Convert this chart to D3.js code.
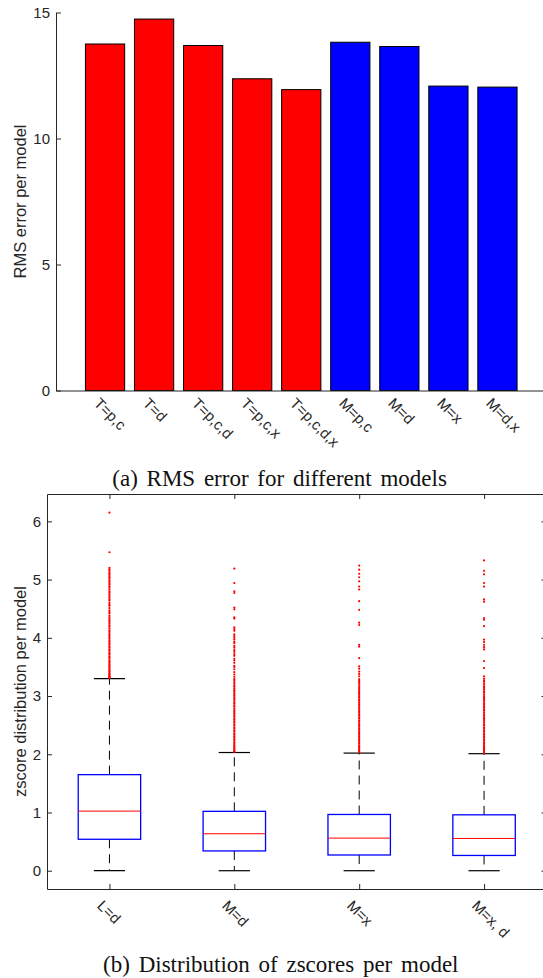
<!DOCTYPE html>
<html>
<head>
<meta charset="utf-8">
<script src="https://cdn.jsdelivr.net/npm/d3@7"></script>
<style>
  html, body { margin: 0; padding: 0; background: #fff; }
  svg { display: block; }
</style>
</head>
<body>
<svg id="fig" width="543" height="978"></svg>
<script>
// (a) RMS error per model
const rmsModels = ["T=p,c", "T=d", "T=p,c,d", "T=p,c,x", "T=p,c,d,x", "M=p,c", "M=d", "M=x", "M=d,x"];
const rmsErrors = [13.75, 14.74, 13.69, 12.37, 11.94, 13.82, 13.65, 12.08, 12.04];
const rmsTicks = [0, 5, 10, 15];

// (b) zscore distribution per model (boxplot stats)
const zModels = ["L=d", "M=d", "M=x", "M=x, d"];
const zLowerWhisker = [0, 0, 0, 0];
const zQ1 = [0.54, 0.34, 0.27, 0.262];
const zMedian = [1.024, 0.635, 0.56, 0.554];
const zQ3 = [1.65, 1.02, 0.966, 0.96];
const zUpperWhisker = [3.30, 2.03, 2.02, 2.01];
const zTicks = [0, 1, 2, 3, 4, 5, 6];

const zOutliersLd = [6.15, 5.47, 5.20, 5.17, 5.15, 5.12, 5.10, 5.08, 5.05, 5.03, 5.01, 4.98, 4.96, 4.93,
  4.91, 4.88, 4.86, 4.83, 4.80, 4.78, 4.75, 4.72, 4.69, 4.66, 4.64, 4.60, 4.57, 4.55, 4.51, 4.47,
  4.44, 4.42, 4.38, 4.35, 4.32, 4.29, 4.27, 4.24, 4.21, 4.19, 4.16, 4.13, 4.11, 4.08, 4.05, 4.03,
  4.00, 3.98, 3.95, 3.93, 3.90, 3.88, 3.85, 3.83, 3.80, 3.78, 3.75, 3.73, 3.71, 3.68, 3.66, 3.64,
  3.61, 3.59, 3.57, 3.55, 3.53, 3.51, 3.49, 3.47, 3.45, 3.43, 3.42, 3.40, 3.38, 3.37, 3.35, 3.34,
  3.33, 3.32, 3.31];
const zOutliersMd = [5.19, 4.94, 4.80, 4.77, 4.52, 4.49, 4.35, 4.33, 4.18, 4.15, 4.12, 4.06, 4.03,
  4.00, 3.97, 3.93, 3.91, 3.86, 3.83, 3.79, 3.76, 3.72, 3.69, 3.64, 3.61, 3.57, 3.52, 3.50, 3.46,
  3.41, 3.37, 3.33, 3.29, 3.27, 3.24, 3.21, 3.18, 3.16, 3.13, 3.10, 3.08, 3.05, 3.02, 3.00, 2.97,
  2.95, 2.92, 2.89, 2.87, 2.84, 2.82, 2.79, 2.76, 2.74, 2.71, 2.69, 2.66, 2.64, 2.61, 2.59, 2.56,
  2.54, 2.51, 2.49, 2.46, 2.44, 2.41, 2.39, 2.36, 2.34, 2.31, 2.29, 2.26, 2.24, 2.21, 2.19, 2.16,
  2.14, 2.12, 2.10, 2.08, 2.06, 2.05, 2.04];
const zOutliersMx = [5.24, 5.17, 5.10, 5.04, 4.97, 4.88, 4.83, 4.63, 4.48, 4.26, 4.22, 3.88, 3.85,
  3.65, 3.51, 3.47, 3.42, 3.38, 3.34, 3.29, 3.26, 3.24, 3.21, 3.18, 3.15, 3.13, 3.10, 3.07, 3.05,
  3.02, 2.99, 2.97, 2.94, 2.92, 2.89, 2.86, 2.84, 2.81, 2.79, 2.76, 2.74, 2.71, 2.68, 2.66, 2.63,
  2.61, 2.58, 2.56, 2.53, 2.50, 2.48, 2.45, 2.43, 2.40, 2.38, 2.35, 2.33, 2.30, 2.28, 2.25, 2.23,
  2.20, 2.18, 2.15, 2.13, 2.11, 2.09, 2.07, 2.05, 2.03];
const zOutliersMxd = [5.33, 5.15, 5.09, 4.94, 4.88, 4.66, 4.62, 4.34, 4.31, 4.20, 3.97, 3.93, 3.88,
  3.84, 3.80, 3.60, 3.48, 3.34, 3.30, 3.27, 3.25, 3.22, 3.19, 3.16, 3.14, 3.11, 3.08, 3.06, 3.03,
  3.00, 2.98, 2.95, 2.93, 2.90, 2.87, 2.85, 2.82, 2.80, 2.77, 2.75, 2.72, 2.69, 2.67, 2.64, 2.62,
  2.59, 2.57, 2.54, 2.51, 2.49, 2.46, 2.44, 2.41, 2.39, 2.36, 2.34, 2.31, 2.29, 2.26, 2.24, 2.21,
  2.19, 2.16, 2.14, 2.12, 2.10, 2.08, 2.06, 2.04, 2.02];
const zOutliers = [zOutliersLd, zOutliersMd, zOutliersMx, zOutliersMxd];

const axisColor = "#262626";
const sansFont = "'Liberation Sans', Arial, Helvetica, sans-serif";
const serifFont = "'Liberation Serif', 'Times New Roman', serif";
const tickFont = 15;
const labelFont = 16.5;

const svg = d3.select("#fig");

function styleAxis(g) {
  g.attr("font-family", sansFont).attr("font-size", tickFont);
  g.selectAll("path, line").attr("stroke", axisColor);
  g.selectAll("text").attr("fill", axisColor);
}

// ---------- (a) bar chart ----------
const xa = d3.scaleLinear().domain([0, 10]).range([56, 546.5]);
const ya = d3.scaleLinear().domain([0, 15]).range([390.5, 12.5]);
const barW = (xa(1) - xa(0)) * 0.8;

const gA = svg.append("g");

gA.append("g")
  .selectAll("rect")
  .data(rmsErrors)
  .join("rect")
  .attr("x", (d, i) => xa(i + 1) - barW / 2)
  .attr("y", d => ya(d))
  .attr("width", barW)
  .attr("height", d => ya(0) - ya(d))
  .attr("fill", (d, i) => rmsModels[i].startsWith("T") ? "#ff0000" : "#0000ff")
  .attr("stroke", "#000")
  .attr("stroke-width", 1);

gA.append("g")
  .attr("transform", `translate(${xa(0)},0)`)
  .call(d3.axisLeft(ya).tickValues(rmsTicks).tickSize(-5).tickSizeOuter(0).tickPadding(6)
    .tickFormat(d3.format("d")))
  .call(styleAxis);

gA.append("g")
  .attr("transform", `translate(0,${ya(0)})`)
  .call(d3.axisBottom(xa).tickValues(d3.range(1, rmsModels.length + 1)).tickSize(0).tickSizeOuter(0)
    .tickFormat(d => rmsModels[d - 1]))
  .call(styleAxis)
  .call(g => g.selectAll(".tick text")
    .attr("x", 0).attr("y", 0).attr("dy", "0.72em")
    .attr("text-anchor", "start")
    .attr("transform", "translate(-5,6) rotate(45)"));

gA.append("text")
  .attr("transform", `translate(26,${(ya(0) + ya(15)) / 2}) rotate(-90)`)
  .attr("text-anchor", "middle")
  .attr("font-family", sansFont).attr("font-size", labelFont)
  .attr("fill", axisColor)
  .text("RMS error per model");

svg.append("text")
  .attr("x", 279.6).attr("y", 486)
  .attr("text-anchor", "middle")
  .attr("font-family", serifFont).attr("font-size", 23)
  .attr("word-spacing", 3)
  .attr("fill", "#111")
  .text("(a) RMS error for different models");

// ---------- (b) boxplot ----------
const xb = d3.scaleLinear().domain([0.5, 4.5]).range([47, 546.5]);
const yb = d3.scaleLinear().domain([-0.314, 6.47]).range([889, 494]);
const step = xb(2) - xb(1);
const boxW = step * 0.5;
const capW = step * 0.25;

const gB = svg.append("g");

const box = gB.append("g")
  .selectAll("g")
  .data(zModels)
  .join("g")
  .attr("transform", (d, i) => `translate(${xb(i + 1)},0)`);

// whiskers (dashed)
box.append("line")
  .attr("x1", 0).attr("x2", 0)
  .attr("y1", (d, i) => yb(zQ3[i])).attr("y2", (d, i) => yb(zUpperWhisker[i]))
  .attr("stroke", "#000").attr("stroke-dasharray", "9,6");
box.append("line")
  .attr("x1", 0).attr("x2", 0)
  .attr("y1", (d, i) => yb(zQ1[i])).attr("y2", (d, i) => yb(zLowerWhisker[i]))
  .attr("stroke", "#000").attr("stroke-dasharray", "9,6");

// caps
box.append("line")
  .attr("x1", -capW / 2).attr("x2", capW / 2)
  .attr("y1", (d, i) => yb(zUpperWhisker[i])).attr("y2", (d, i) => yb(zUpperWhisker[i]))
  .attr("stroke", "#000").attr("stroke-width", 1.2);
box.append("line")
  .attr("x1", -capW / 2).attr("x2", capW / 2)
  .attr("y1", (d, i) => yb(zLowerWhisker[i])).attr("y2", (d, i) => yb(zLowerWhisker[i]))
  .attr("stroke", "#000").attr("stroke-width", 1.2);

// boxes
box.append("rect")
  .attr("x", -boxW / 2)
  .attr("y", (d, i) => yb(zQ3[i]))
  .attr("width", boxW)
  .attr("height", (d, i) => yb(zQ1[i]) - yb(zQ3[i]))
  .attr("fill", "none")
  .attr("stroke", "#0000ff").attr("stroke-width", 1.3);

// medians
box.append("line")
  .attr("x1", -boxW / 2).attr("x2", boxW / 2)
  .attr("y1", (d, i) => yb(zMedian[i])).attr("y2", (d, i) => yb(zMedian[i]))
  .attr("stroke", "#ff0000").attr("stroke-width", 1);

// outliers
box.each(function (d, i) {
  d3.select(this).selectAll("circle")
    .data(zOutliers[i])
    .join("circle")
    .attr("cx", 0)
    .attr("cy", v => yb(v))
    .attr("r", 1.1)
    .attr("fill", "#ff0000");
});

// frame and ticks
const catTicks = d3.range(1, zModels.length + 1);
gB.append("g")
  .attr("transform", `translate(${xb(0.5)},0)`)
  .call(d3.axisLeft(yb).tickValues(zTicks).tickSize(-5).tickSizeOuter(0).tickPadding(6)
    .tickFormat(d3.format("d")))
  .call(styleAxis);
gB.append("g")
  .attr("transform", `translate(${xb(4.5)},0)`)
  .call(d3.axisRight(yb).tickValues(zTicks).tickSize(-5).tickSizeOuter(0).tickFormat(""))
  .call(styleAxis);
gB.append("g")
  .attr("transform", `translate(0,${yb.range()[1]})`)
  .call(d3.axisTop(xb).tickValues(catTicks).tickSize(-5).tickSizeOuter(0).tickFormat(""))
  .call(styleAxis);
gB.append("g")
  .attr("transform", `translate(0,${yb.range()[0]})`)
  .call(d3.axisBottom(xb).tickValues(catTicks).tickSize(-5).tickSizeOuter(0)
    .tickFormat(d => zModels[d - 1]))
  .call(styleAxis)
  .call(g => g.selectAll(".tick text")
    .attr("x", 0).attr("y", 0).attr("dy", "0.72em")
    .attr("text-anchor", "start")
    .attr("transform", "translate(-6,10) rotate(45)"));

gB.append("text")
  .attr("transform", `translate(26,${(yb.range()[0] + yb.range()[1]) / 2}) rotate(-90)`)
  .attr("text-anchor", "middle")
  .attr("font-family", sansFont).attr("font-size", labelFont)
  .attr("fill", axisColor)
  .text("zscore distribution per model");

svg.append("text")
  .attr("x", 280.8).attr("y", 972)
  .attr("text-anchor", "middle")
  .attr("font-family", serifFont).attr("font-size", 23)
  .attr("word-spacing", 3)
  .attr("fill", "#111")
  .text("(b) Distribution of zscores per model");
</script>
</body>
</html>
